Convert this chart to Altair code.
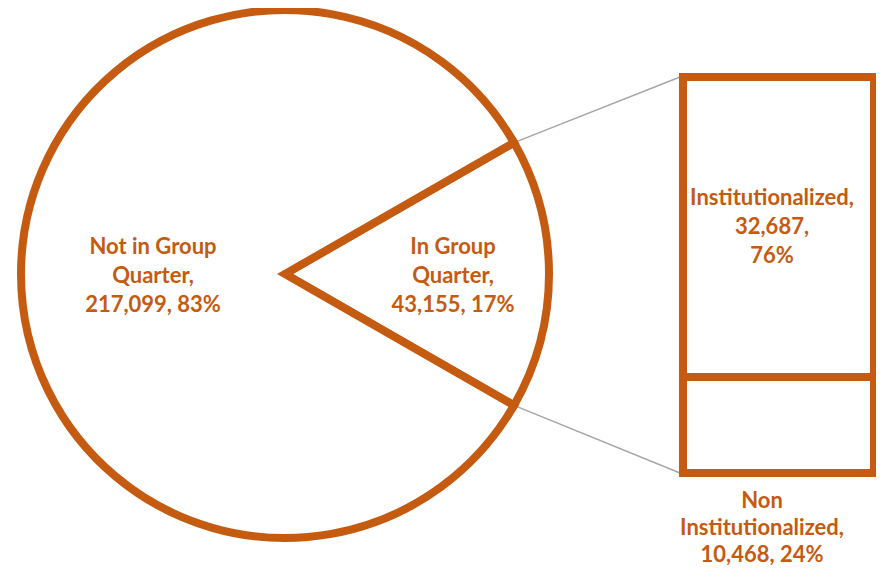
import math
import altair as alt
import pandas as pd

# ---- data ----
pie_labels = ["In Group Quarter", "Not in Group Quarter"]
pie_values = [43155, 217099]
pie_pcts = ["17%", "83%"]

bar_labels = ["Non Institutionalized", "Institutionalized"]
bar_values = [10468, 32687]
bar_pcts = ["24%", "76%"]

ORANGE = "#C55A11"
GREY = "#A6A6A6"

W, H = 868, 558
CX, CY, R = 277, 266, 264          # pie centre / radius (plot coords)
BX1, BX2 = 675, 866                # bar left / right
BY_TOP, BY_BOT = 69, 465           # bar top / bottom

total = sum(pie_values)
half = pie_values[0] / total * math.pi  # half-angle of the exploded slice
start = math.pi / 2 - half

pie_df = pd.DataFrame({"label": pie_labels, "value": pie_values, "ord": [0, 1]})
bar_df = pd.DataFrame({"label": bar_labels, "value": bar_values, "ord": [0, 1]})

pie = alt.Chart(pie_df).mark_arc(
    fill="white", stroke=ORANGE, strokeWidth=8, strokeJoin="miter", outerRadius=R
).encode(
    theta=alt.Theta("value:Q", stack=True,
                    scale=alt.Scale(range=[start, start + 2 * math.pi])),
    order=alt.Order("ord:Q"),
    x=alt.value(CX), y=alt.value(CY),
)

bar = alt.Chart(bar_df).transform_stack(
    stack="value", groupby=[], as_=["v0", "v1"],
    sort=[alt.SortField("ord", order="ascending")],
).mark_rect(
    fill="white", stroke=ORANGE, strokeWidth=8, strokeJoin="miter"
).encode(
    y=alt.Y("v0:Q", axis=None,
            scale=alt.Scale(domain=[0, sum(bar_values)], range=[BY_BOT, BY_TOP])),
    y2="v1:Q",
    x=alt.value(BX1), x2=alt.value(BX2),
)

# connector lines from slice edges to bar corners
ex = CX + R * math.cos(half)
ey_top = CY - R * math.sin(half)
ey_bot = CY + R * math.sin(half)
conn_df = pd.DataFrame({
    "x": [ex, ex], "y": [ey_top, ey_bot],
    "x2": [BX1 - 3, BX1 - 3], "y2": [BY_TOP, BY_BOT],
})
conn = alt.Chart(conn_df).mark_rule(color=GREY, strokeWidth=1.5).encode(
    x=alt.X("x:Q", scale=None), y=alt.Y("y:Q", scale=None),
    x2="x2:Q", y2="y2:Q",
)

def fmt(v):
    return f"{v:,}"

text_df = pd.DataFrame({
    "txt": [
        f"Not in Group\nQuarter,\n{fmt(pie_values[1])}, {pie_pcts[1]}",
        f"In Group\nQuarter,\n{fmt(pie_values[0])}, {pie_pcts[0]}",
        f"{bar_labels[1]},\n{fmt(bar_values[1])},\n{bar_pcts[1]}",
    ],
    "x": [145, 445, 764],
    "y": [239, 239, 190],
})
labels = alt.Chart(text_df).mark_text(
    font="Lato", fontWeight="bold", fontSize=22, color=ORANGE,
    lineBreak="\n", lineHeight=29, align="center", baseline="middle",
).encode(
    x=alt.X("x:Q", scale=None), y=alt.Y("y:Q", scale=None), text="txt:N",
)

low_df = pd.DataFrame({
    "txt": [f"Non\nInstitutionalized,\n{fmt(bar_values[0])}, {bar_pcts[0]}"],
    "x": [754], "y": [493],
})
low_label = alt.Chart(low_df).mark_text(
    font="Lato", fontWeight="bold", fontSize=22, color=ORANGE,
    lineBreak="\n", lineHeight=27, align="center", baseline="middle",
).encode(
    x=alt.X("x:Q", scale=None), y=alt.Y("y:Q", scale=None), text="txt:N",
)

chart = alt.layer(conn, pie, bar, labels, low_label).properties(
    width=W, height=H, padding=0, autosize=alt.AutoSizeParams(type="none")
).configure_view(stroke=None).resolve_scale(y="independent")

chart.save("out.html", embed_options={"renderer": "svg", "actions": False})
